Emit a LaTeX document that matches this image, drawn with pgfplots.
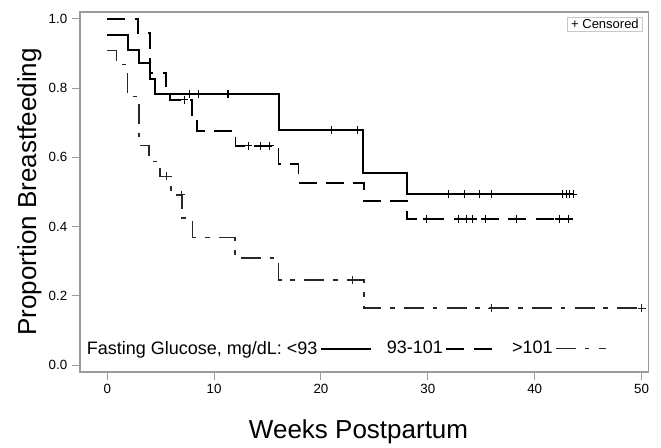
\documentclass[border=0pt]{standalone}
\usepackage{pgfplots}
\pgfplotsset{compat=1.18}
\usepackage{fontspec}
\setmainfont{Liberation Sans}
\definecolor{framegray}{RGB}{155,155,155}
\definecolor{boxgray}{RGB}{200,200,200}
\definecolor{ddgray}{RGB}{40,40,40}

\begin{document}
\begin{tikzpicture}
\begin{axis}[
    scale only axis,
    width=426.4pt, height=270pt,
    xmin=-2.55, xmax=50.65,
    ymin=-0.02, ymax=1.02,
    xtick={0,10,20,30,40,50},
    ytick={0,0.2,0.4,0.6,0.8,1.0},
    yticklabel style={/pgf/number format/.cd, fixed, fixed zerofill, precision=1},
    /pgf/number format/assume math mode=true,
    ticklabel style={font=\fontsize{10}{11}\selectfont},
    xtick pos=left, ytick pos=left,
    tick align=outside, major tick length=6pt,
    axis line style={framegray, line width=0.8pt},
    tick style={framegray, line width=0.8pt},
    xlabel={Weeks Postpartum},
    ylabel={Proportion Breastfeeding},
    label style={font=\fontsize{19.5}{22}\selectfont},
    xlabel style={at={(axis description cs:0.49,-0.1667)}, anchor=center},
    ylabel style={at={(axis description cs:-0.089,0.5)}, anchor=center},
    legend columns=3,
    legend plot pos=right,
    legend image code/.code={\draw[#1] (0pt,0pt) -- (37.5pt,0pt);},
    legend style={at={(axis description cs:0.007,0.065)}, anchor=west,
        draw=none, fill=none, inner sep=0pt,
        font=\fontsize{13.5}{15}\selectfont,
        nodes={inner sep=2pt},
        /tikz/every even column/.append style={column sep=9pt}},
]

% <93
\addplot[const plot, black, line width=1.5pt] coordinates {
    (0,0.954) (1.94,0.911) (2.93,0.873) (3.96,0.826) (4.5,0.783)
    (16.03,0.678) (23.97,0.555) (28.04,0.494) (43.6,0.494)
};
\addlegendentry{Fasting Glucose, mg/dL: <93}
% 93-101
\addplot[const plot, black, line width=1.4pt, dash pattern=on 13.5pt off 7pt] coordinates {
    (0,1.0) (2.9,0.959) (4.0,0.844) (5.5,0.790) (5.9,0.766)
    (7.9,0.704) (8.4,0.677) (12.0,0.634) (16.03,0.581) (17.9,0.527)
    (24.0,0.475) (28.04,0.422) (43.2,0.422)
};
\addlegendentry{93-101}
% >101
\addplot[const plot, ddgray, line width=1.2pt, dash pattern=on 15pt off 6.5pt on 3.5pt off 7pt] coordinates {
    (0,0.909) (0.88,0.868) (1.9,0.776) (2.97,0.634) (3.93,0.588)
    (4.93,0.545) (5.96,0.492) (7.02,0.425) (7.99,0.369) (11.95,0.309)
    (16.03,0.246) (24.0,0.164) (50.0,0.164)
};
\addlegendentry{>101}

% censored
\addplot[forget plot, only marks, mark=+, mark size=3pt, black, mark options={solid, line width=0.8pt}] coordinates {
    (7.74,0.783) (8.5,0.783) (11.3,0.783) (21.0,0.678) (23.4,0.678)
    (31.97,0.494) (33.4,0.494) (34.8,0.494) (36.0,0.494)
    (42.6,0.494) (42.95,0.494) (43.3,0.494) (43.6,0.494)
};
\addplot[forget plot, only marks, mark=+, mark size=3pt, black, mark options={solid, line width=0.8pt}] coordinates {
    (7.2,0.766) (13.2,0.634) (14.3,0.634) (15.2,0.634)
    (29.9,0.422) (32.9,0.422) (33.6,0.422) (34.2,0.422) (35.4,0.422)
    (38.3,0.422) (42.3,0.422) (43.2,0.422)
};
\addplot[forget plot, only marks, mark=+, mark size=3pt, ddgray, mark options={solid, line width=0.7pt}] coordinates {
    (5.56,0.545) (6.9,0.492) (22.95,0.246) (36.0,0.164) (50.0,0.164)
};

\node[draw=boxgray, line width=0.6pt, fill=white, anchor=north east,
      inner xsep=3pt, inner ysep=1.5pt, xshift=-4pt, yshift=-3.75pt,
      font=\fontsize{9.75}{11}\selectfont] at (rel axis cs:1,1) {+ Censored};
\end{axis}
\pgfresetboundingbox
\path ([xshift=-60pt,yshift=-56.5pt]current axis.south west)
    rectangle ([xshift=9.4pt,yshift=9pt]current axis.north east);
\end{tikzpicture}
\end{document}
